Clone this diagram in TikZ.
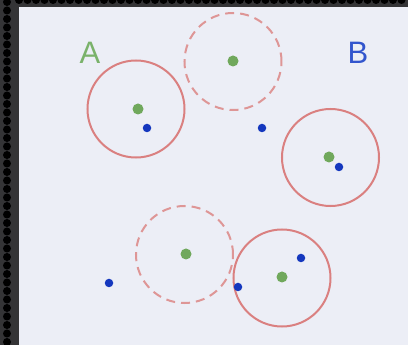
\documentclass[tikz,border=0pt]{standalone}
\usepackage{fontspec}
\setmainfont{Liberation Sans}
\definecolor{panelc}{RGB}{236,238,246}
\definecolor{framec}{RGB}{52,52,54}
\definecolor{ringc}{RGB}{218,128,128}
\definecolor{dringc}{RGB}{222,150,150}
\definecolor{gdotc}{RGB}{112,168,92}
\definecolor{bdotc}{RGB}{20,55,190}
\definecolor{alabc}{RGB}{122,178,106}
\definecolor{blabc}{RGB}{50,85,205}
\begin{document}
\begin{tikzpicture}[x=1pt,y=-1pt,
  ring/.style={circle, draw=ringc, line width=2pt, inner sep=0pt, minimum size=97pt},
  dring/.style={circle, draw=dringc, line width=2pt, dash pattern=on 9pt off 6pt, inner sep=0pt, minimum size=97pt},
  gdot/.style={circle, fill=gdotc, inner sep=0pt, minimum size=11pt},
  bdot/.style={circle, fill=bdotc, inner sep=0pt, minimum size=8.5pt},
  lab/.style={font=\fontsize{31}{36}\selectfont, inner sep=0pt}]
\useasboundingbox (0,0) rectangle (408,345);
% frame
\fill[framec] (0,0) rectangle (408,345);
\foreach \yy in {2,10.5,...,345} \fill[black] (7,\yy) circle (4);
\foreach \xx in {19,27.5,...,408} \fill[black] (\xx,0) circle (4);
% panel
\fill[panelc] (19,7) rectangle (408,345);
% circles
\node[ring]  (c1) at (136,109) {};
\node[dring] (c2) at (233,61.5) {};
\node[ring]  (c3) at (330.5,157.5) {};
\node[dring] (c4) at (184.5,254.5) {};
\node[ring]  (c5) at (282,278) {};
% green dots (centres)
\node[gdot] (g1) at (138,109) {};
\node[gdot] (g2) at (233,61) {};
\node[gdot] (g3) at (329,157) {};
\node[gdot] (g4) at (186,254) {};
\node[gdot] (g5) at (282,277) {};
% blue dots
\node[bdot] (b1) at (147,128) {};
\node[bdot] (b2) at (262,128) {};
\node[bdot] (b3) at (339,167) {};
\node[bdot] (b4) at (109,283) {};
\node[bdot] (b5) at (301,258) {};
\node[bdot] (b6) at (238,287) {};
% labels
\node[lab, text=alabc] (la) at (90,53) {A};
\node[lab, text=blabc] (lb) at (358,53) {B};
\end{tikzpicture}
\end{document}
